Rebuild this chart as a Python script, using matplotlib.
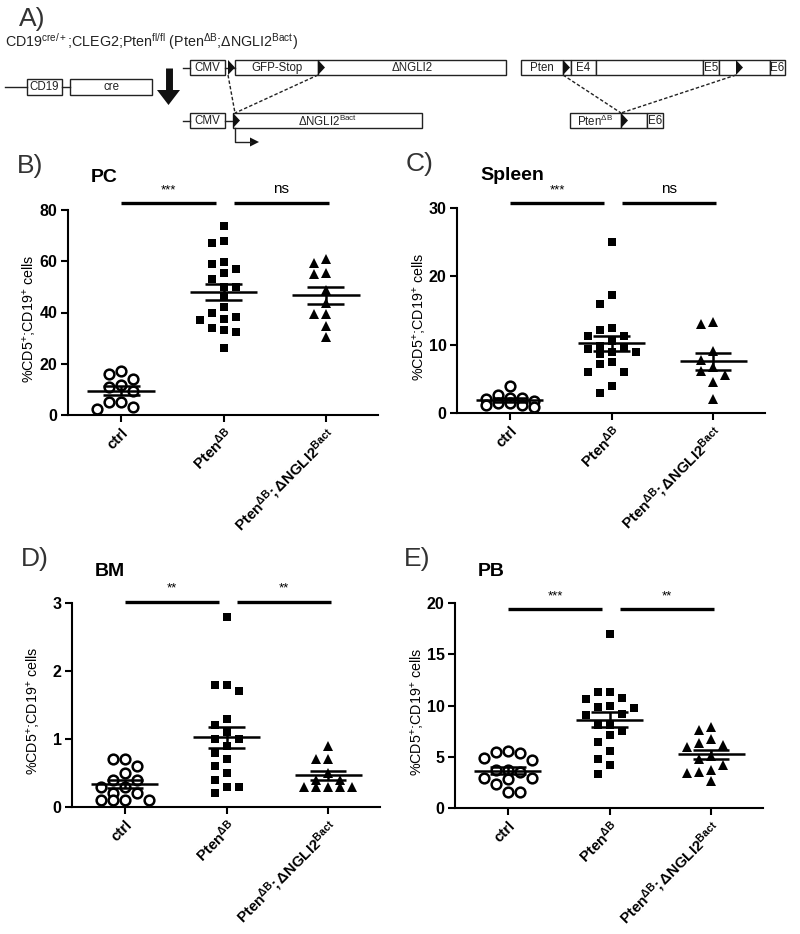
import numpy as np
import matplotlib
matplotlib.use("Agg")
import matplotlib.pyplot as plt
from matplotlib.patches import Rectangle, Polygon

plt.rcParams['font.family'] = ['Liberation Sans', 'DejaVu Sans']
plt.rcParams['mathtext.fontset'] = 'custom'
plt.rcParams['mathtext.rm'] = 'Liberation Sans'
plt.rcParams['mathtext.it'] = 'Liberation Sans:italic'
plt.rcParams['mathtext.bf'] = 'Liberation Sans:bold'

# group names
groups = ['ctrl', r'$\mathbf{Pten^{ΔB}}$', r'$\mathbf{Pten^{ΔB};ΔNGLI2^{Bact}}$']

# %CD5+;CD19+ cells per mouse
pc_ctrl = [17, 16, 14, 11.7, 10.8, 9.5, 5.2, 5.2, 3.3, 2.2]
pc_pten = [73.8, 67.9, 67.3, 59.8, 58.8, 56.8, 55.3, 52.9, 50.1, 50.1,
           46.2, 42.0, 39.9, 38.4, 37.5, 37.1, 33.8, 33.2, 32.5, 26.3]
pc_dngli = [60.9, 59.4, 55.3, 54.9, 48.8, 43.8, 39.4, 39.4, 34.7, 30.3]

sp_ctrl = [4.0, 2.7, 2.2, 2.2, 2.0, 1.8, 1.5, 1.4, 1.1, 1.1, 0.9]
sp_pten = [25.0, 17.2, 16.0, 12.4, 12.2, 11.2, 11.2, 10.5, 9.8, 9.6,
           9.4, 9.0, 8.9, 8.7, 7.4, 7.2, 6.0, 6.0, 4.0, 3.0]
sp_dngli = [13.3, 13.0, 9.1, 7.8, 6.8, 6.1, 5.6, 4.6, 2.0]

bm_ctrl = [0.7, 0.7, 0.6, 0.5, 0.4, 0.4, 0.3, 0.3, 0.2, 0.2, 0.1, 0.1, 0.1, 0.1]
bm_pten = [2.8, 1.8, 1.8, 1.7, 1.3, 1.2, 1.1, 1.0, 1.0, 0.9, 0.8, 0.7,
           0.6, 0.5, 0.4, 0.3, 0.3, 0.2]
bm_dngli = [0.9, 0.7, 0.7, 0.5, 0.4, 0.4, 0.3, 0.3, 0.3, 0.3, 0.3]

pb_ctrl = [5.6, 5.5, 5.4, 4.9, 4.7, 3.7, 3.7, 3.5, 2.9, 2.9, 2.8, 2.3, 1.6, 1.6]
pb_pten = [17.0, 11.3, 11.3, 10.7, 10.6, 10.0, 9.9, 9.8, 9.2, 9.1, 8.1,
           8.1, 7.5, 7.1, 6.4, 5.6, 4.8, 4.2, 3.3]
pb_dngli = [7.9, 7.6, 6.7, 6.3, 6.1, 6.0, 5.1, 4.8, 4.2, 3.7, 3.5, 3.4, 2.6]

# significance (ctrl vs Pten, Pten vs Pten;NGLI2)
pc_sig = ['***', 'ns']
sp_sig = ['***', 'ns']
bm_sig = ['**', '**']
pb_sig = ['***', '**']

W, H = 800, 934
fig = plt.figure(figsize=(W / 100, H / 100), dpi=100)


def ftext(x, y, s, **kw):
    fig.text(x / W, 1 - y / H, s, **kw)


def swarm(vals, px_x, px_y, d=12, overlap=0.8):
    # simple column-grid beeswarm, at most 2 steps to each side
    vals = np.asarray(vals, float)
    order = np.argsort(-vals, kind='stable')
    xs = np.zeros(len(vals))
    placed = []
    for k in order:
        y = vals[k] * px_y
        best, best_d = 0, -1
        for m in [0, -1, 1, -2, 2]:
            x = m * d
            dmin = min([np.hypot(x - a, y - b) for a, b in placed] + [1e9])
            if dmin >= overlap * d:
                best = m
                break
            if dmin > best_d:
                best, best_d = m, dmin
        placed.append((best * d, y))
        xs[k] = best * d / px_x
    return xs


def panel(box, letter, title, data, ymax, yticks, sig, bar_y):
    l, t, r, b = box
    ax = fig.add_axes([l / W, 1 - b / H, (r - l) / W, (b - t) / H])
    x0, x1 = -0.52, 2.51
    ax.set_xlim(x0, x1)
    ax.set_ylim(0, ymax)
    px_x = (r - l) / (x1 - x0)
    px_y = (b - t) / ymax
    styles = [dict(marker='o', ms=7, mfc='white', mec='black', mew=1.8),
              dict(marker='s', ms=6.3, mfc='black', mec='black', mew=0),
              dict(marker='^', ms=7, mfc='black', mec='black', mew=0)]
    for i, v in enumerate(data):
        v = np.asarray(v, float)
        xs = i + swarm(v, px_x, px_y)
        ax.plot(xs, v, ls='none', zorder=3, clip_on=False, **styles[i])
        m = v.mean()
        s = v.std(ddof=1) / np.sqrt(len(v))
        kw = dict(color='black', lw=1.8, zorder=4, solid_capstyle='butt')
        ax.plot([i - 0.33, i + 0.33], [m, m], **kw)
        ax.plot([i - 0.18, i + 0.18], [m + s, m + s], **kw)
        ax.plot([i - 0.18, i + 0.18], [m - s, m - s], **kw)
        ax.plot([i, i], [m - s, m + s], **kw)
    # significance bars
    spans = [(0.0, 0.93), (1.1, 2.03)]
    for (a, c), lab in zip(spans, sig):
        ax.plot([a, c], [bar_y, bar_y], color='black', lw=2.4, clip_on=False,
                solid_capstyle='butt')
        ax.annotate(lab, ((a + c) / 2, bar_y), xytext=(0, 5),
                    textcoords='offset points', ha='center', va='bottom',
                    fontsize=11 if lab == 'ns' else 9.5, annotation_clip=False)
    for sp in ['top', 'right']:
        ax.spines[sp].set_visible(False)
    for sp in ['left', 'bottom']:
        ax.spines[sp].set_linewidth(1.5)
    ax.set_yticks(yticks)
    ax.set_yticklabels([str(y) for y in yticks], fontweight='bold', fontsize=11.5)
    ax.set_xticks([0, 1, 2])
    ax.set_xticklabels(groups, rotation=45, ha='right', va='top',
                       rotation_mode='anchor', fontweight='bold', fontsize=10.8)
    ax.tick_params(width=1.5, length=5, pad=2.5)
    ax.set_ylabel(r'%CD5$^{+}$;CD19$^{+}$ cells', fontsize=10.3, va='center')
    ax.yaxis.set_label_coords(-0.125, 0.47)
    ftext(l - 51, t - 44, letter, fontsize=19, color='#333333', va='center')
    ftext(l + 23, t - 32, title, fontsize=14, fontweight='bold', va='center')
    return ax


panel((68, 210, 378, 415), 'B)', 'PC', [pc_ctrl, pc_pten, pc_dngli],
      80, [0, 20, 40, 60, 80], pc_sig, 82.7)
panel((457, 208, 765, 413), 'C)', 'Spleen', [sp_ctrl, sp_pten, sp_dngli],
      30, [0, 10, 20, 30], sp_sig, 30.7)
panel((72, 603, 380, 807), 'D)', 'BM', [bm_ctrl, bm_pten, bm_dngli],
      3, [0, 1, 2, 3], bm_sig, 3.02)
panel((455, 603, 763, 808), 'E)', 'PB', [pb_ctrl, pb_pten, pb_dngli],
      20, [0, 5, 10, 15, 20], pb_sig, 19.4)

# ---- A) construct scheme, drawn in pixel space
ax0 = fig.add_axes([0, 1 - 150 / H, 1, 150 / H])
ax0.set_xlim(0, W)
ax0.set_ylim(150, 0)
ax0.axis('off')
ec = '#222222'


def rect(x0, x1, yc, s=None, h=15, fs=8.3):
    ax0.add_patch(Rectangle((x0, yc - h / 2), x1 - x0, h, fc='white', ec=ec, lw=1))
    if s:
        ax0.text((x0 + x1) / 2, yc + 0.5, s, ha='center', va='center', fontsize=fs, color='#222222')


def tri(x, yc, w=7, h=15):
    ax0.add_patch(Polygon([(x, yc - h / 2), (x, yc + h / 2), (x + w, yc)],
                          closed=True, fc='#111111', ec='none', zorder=5))


def line(xs, ys, **kw):
    ax0.plot(xs, ys, color=ec, lw=1, **kw)


ax0.text(19, 19, 'A)', fontsize=19, color='#333333', va='center')
ax0.text(5, 42, r'CD19$^{\mathrm{cre/+}}$;CLEG2;Pten$^{\mathrm{fl/fl}}$ (Pten$^{\mathrm{ΔB}}$;ΔNGLI2$^{\mathrm{Bact}}$)',
         fontsize=10.3, va='center', color='#222222')

# row 1: CMV - loxP - GFP-Stop - loxP - dNGLI2
y1 = 67.5
line([183, 190], [y1, y1])
rect(190, 225, y1, 'CMV')
line([225, 235], [y1, y1])
tri(228, y1)
rect(235, 318, y1, 'GFP-Stop')
rect(318, 506, y1, 'ΔNGLI2')
tri(318, y1)

# Pten floxed allele
rect(521, 563, y1, 'Pten')
rect(563, 571, y1)
tri(563, y1)
rect(571, 596, y1, 'E4')
rect(596, 703, y1)
rect(703, 719, y1, 'E5')
rect(719, 770, y1)
tri(736, y1)
rect(770, 785, y1, 'E6')

# CD19-cre
y2 = 86.5
line([5, 27], [y2, y2])
rect(27, 62, y2, 'CD19', h=16)
line([62, 70], [y2, y2])
rect(70, 152, y2, 'cre', h=16)

# big down arrow
ax0.plot([168.5, 168.5], [68, 91], color='#111111', lw=5, solid_capstyle='butt')
ax0.add_patch(Polygon([(157, 90), (180, 90), (168.5, 105)], closed=True, fc='#111111', ec='none'))

# row 3: recombined alleles
y3 = 120.5
line([183, 190], [y3, y3])
rect(190, 225, y3, 'CMV')
line([225, 233], [y3, y3])
rect(233, 422, y3, r'ΔNGLI2$^{\mathrm{Bact}}$')
tri(233, y3)
line([235, 235, 251], [128, 142, 142])
ax0.add_patch(Polygon([(250, 137.5), (250, 146.5), (259, 142)], closed=True, fc='#111111', ec='none'))
line([228, 235], [75, 113], ls=(0, (2.5, 1.5)))
line([318, 235], [75, 113], ls=(0, (2.5, 1.5)))

rect(570, 621, y3, r'Pten$^{\mathrm{ΔB}}$')
rect(621, 647, y3)
tri(621, y3)
rect(647, 663, y3, 'E6')
line([563, 621], [75, 113], ls=(0, (2.5, 1.5)))
line([736, 621], [75, 113], ls=(0, (2.5, 1.5)))

fig.savefig('out.png', dpi=100)
